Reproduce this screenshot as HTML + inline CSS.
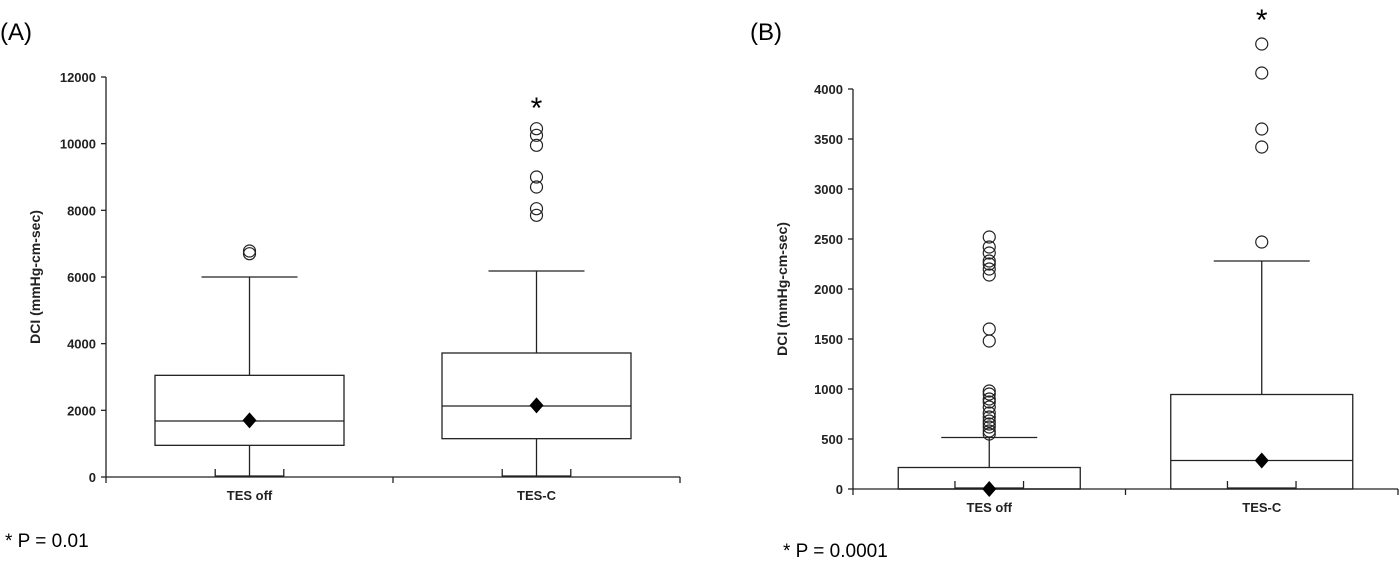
<!DOCTYPE html>
<html><head><meta charset="utf-8"><style>
body{margin:0;background:#fff;width:1400px;height:560px;overflow:hidden;font-family:"Liberation Sans",sans-serif}
</style></head><body>
<svg id="svg" width="1400" height="560" xmlns="http://www.w3.org/2000/svg">
<text x="0" y="40" font-size="24">(A)</text>
<text x="750" y="40" font-size="24">(B)</text>
<text x="5" y="547" font-size="19">* P = 0.01</text>
<text x="783" y="557" font-size="19">* P = 0.0001</text>
</svg>
<script>
const categories=["TES off","TES-C"];
const aTicks=[0,2000,4000,6000,8000,10000,12000];
const aQ1=[950,1150], aMed=[1680,2130], aQ3=[3050,3720], aLo=[0,0], aHi=[6000,6180], aMean=[1700,2150];
const aOut=[[6700,6780],[7850,8050,8700,9000,9950,10250,10450]];
const bTicks=[0,500,1000,1500,2000,2500,3000,3500,4000];
const bQ1=[0,0], bMed=[0,285], bQ3=[215,945], bLo=[0,0], bHi=[515,2280], bMean=[0,285];
const bOut=[[550,580,620,650,680,720,760,820,870,900,950,980,1480,1600,2140,2200,2250,2280,2360,2420,2520],[2470,3420,3600,4160,4450]];
const svg=document.getElementById('svg');
const NS='http://www.w3.org/2000/svg';
function mk(tag,at,name,parent){const e=document.createElementNS(NS,tag);for(const k in at)e.setAttribute(k,at[k]);


(parent||svg).appendChild(e);return e;}
function panel(id,P){
 const g=mk('g',{},id+'-chart');
 const y=v=>P.y0-(v-P.ymin)/(P.ymax-P.ymin)*(P.y0-P.y1);
 const x=i=>P.xL+(i+0.5)*(P.xR-P.xL)/categories.length;
 const st={stroke:'#222','stroke-width':1.3,fill:'none'};
 mk('line',Object.assign({x1:P.xL,y1:y(P.ticks[P.ticks.length-1]),x2:P.xL,y2:P.y0},st),id+'-y-axis',g);
 mk('line',Object.assign({x1:P.xL,y1:P.y0,x2:P.xR,y2:P.y0},st),id+'-x-axis',g);
 P.ticks.forEach(t=>{mk('line',Object.assign({x1:P.xL-5,y1:y(t),x2:P.xL,y2:y(t)},st),id+'-y-tick',g);
  const tx=mk('text',{x:P.xL-10,y:y(t)+5,'text-anchor':'end','font-size':13,'font-weight':'bold',fill:'#222'},id+'-y-tick-label',g);tx.textContent=t;});
 for(let i=0;i<=categories.length;i++){const xx=P.xL+i*(P.xR-P.xL)/categories.length;
  mk('line',Object.assign({x1:xx,y1:P.y0,x2:xx,y2:P.y0+6},st),id+'-x-tick',g);}
 const yt=mk('text',{x:0,y:0,transform:`translate(${P.xL-66},${(P.y0+P.y1)/2}) rotate(-90)`,'text-anchor':'middle','font-size':14,'font-weight':'bold',fill:'#222'},id+'-y-axis-title',g);
 yt.textContent='DCI (mmHg-cm-sec)';
 categories.forEach((c,i)=>{
  const cx=x(i),hw=P.bw/2,cw=P.cw/2;
  const lt=mk('text',{x:cx,y:P.y0+23,'text-anchor':'middle','font-size':13,'font-weight':'bold',fill:'#222'},id+'-x-label',g);lt.textContent=c;
  mk('line',Object.assign({x1:cx,y1:y(P.hi[i]),x2:cx,y2:y(P.q3[i])},st),id+'-upper-whisker',g);
  mk('line',Object.assign({x1:cx-cw,y1:y(P.hi[i]),x2:cx+cw,y2:y(P.hi[i])},st),id+'-upper-cap',g);
  mk('line',Object.assign({x1:cx,y1:y(P.lo[i]),x2:cx,y2:y(P.q1[i])},st),id+'-lower-whisker',g);
  mk('line',Object.assign({x1:cx-cw/1.4,y1:y(P.lo[i])-1,x2:cx+cw/1.4,y2:y(P.lo[i])-1},st),id+'-lower-cap',g);
  mk('line',Object.assign({x1:cx-cw/1.4,y1:y(P.lo[i]),x2:cx-cw/1.4,y2:y(P.lo[i])-8},st),id+'-cap-tick',g);
  mk('line',Object.assign({x1:cx+cw/1.4,y1:y(P.lo[i]),x2:cx+cw/1.4,y2:y(P.lo[i])-8},st),id+'-cap-tick',g);
  mk('rect',Object.assign({x:cx-hw,y:y(P.q3[i]),width:P.bw,height:y(P.q1[i])-y(P.q3[i])},st),id+'-box-'+i,g);
  mk('line',Object.assign({x1:cx-hw,y1:y(P.med[i]),x2:cx+hw,y2:y(P.med[i])},st),id+'-median-'+i,g);
  const my=y(P.mean[i]);
  mk('polygon',{points:`${cx},${my-8} ${cx+7},${my} ${cx},${my+8} ${cx-7},${my}`,fill:'#000'},id+'-mean-marker',g);
  P.out[i].forEach(v=>mk('circle',{cx:cx,cy:y(v),r:6,fill:'none',stroke:'#222','stroke-width':1.2},id+'-outlier',g));
 });
 const s=mk('text',{x:x(1),y:P.starY,'text-anchor':'middle','font-size':30,fill:'#000'},id+'-significance-star',g);s.textContent='*';
}
panel('panel-a',{xL:106,xR:680,y0:477,y1:77,ymin:0,ymax:12000,ticks:aTicks,bw:189,cw:96,q1:aQ1,med:aMed,q3:aQ3,lo:aLo,hi:aHi,mean:aMean,out:aOut,starY:118});
panel('panel-b',{xL:853,xR:1398,y0:489,y1:89,ymin:0,ymax:4000,ticks:bTicks,bw:182,cw:96,q1:bQ1,med:bMed,q3:bQ3,lo:bLo,hi:bHi,mean:bMean,out:bOut,starY:30});
</script>
</body></html>
